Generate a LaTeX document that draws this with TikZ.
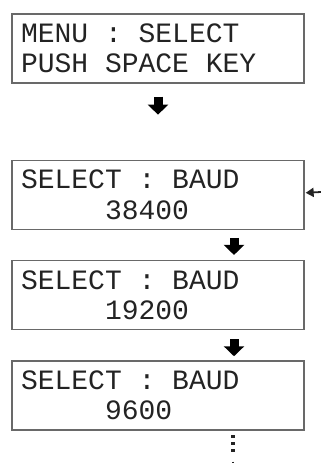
\documentclass[tikz,border=0pt]{standalone}
\usepackage{fontspec}
\usepackage{tikz}
\usetikzlibrary{positioning,calc}
\usetikzlibrary{arrows.meta}
\newfontfamily\lcdfont{Liberation Mono}
\newcommand\lcdsp{\hphantom{0}}
\definecolor{LcdFrame}{RGB}{105,105,105}
\definecolor{LcdInk}{RGB}{35,35,35}

\tikzset{
	lcdbox/.style={draw=LcdFrame,line width=1.3pt,text width=274pt,
		inner xsep=9pt,inner ysep=0pt,minimum height=69pt,align=left,
		font=\lcdfont\fontsize{28pt}{30.5pt}\selectfont,text=LcdInk},
	downarrow/.style={line width=9pt,-{Triangle[length=10pt,width=20pt]}},
	looparrow/.style={line width=1.8pt,-{Triangle[length=8pt,width=9pt]}}
}

\begin{document}
\begin{tikzpicture}
				\useasboundingbox (0,0) rectangle (321pt,-463pt);
				
				\node[lcdbox] (menu) at (158pt,-48.5pt)
				{MENU\lcdsp:\lcdsp SELECT\\PUSH\lcdsp SPACE\lcdsp KEY};
				\node[lcdbox,below=76pt of menu] (baudA)
				{SELECT\lcdsp:\lcdsp BAUD\\\lcdsp\lcdsp\lcdsp\lcdsp\lcdsp 38400};
				\node[lcdbox,below=30pt of baudA] (baudB)
				{SELECT\lcdsp:\lcdsp BAUD\\\lcdsp\lcdsp\lcdsp\lcdsp\lcdsp 19200};
				\node[lcdbox,below=30pt of baudB] (baudC)
				{SELECT\lcdsp:\lcdsp BAUD\\\lcdsp\lcdsp\lcdsp\lcdsp\lcdsp 9600};
				
				% block arrows between the screens
				\draw[downarrow] ($(menu.south)+(0,-13pt)$) -- ++(0,-18pt);
				\draw[downarrow] ($(baudA.south)+(76pt,-8pt)$) -- ++(0,-17pt);
				\draw[downarrow] ($(baudB.south)+(76pt,-9pt)$) -- ++(0,-17pt);
				
				% the list goes on and comes back to 38400
				\foreach \d in {6,13,20}
				\fill[LcdInk] ($(baudC.south)+(75pt,-\d pt)$) +(-1.6pt,-1.6pt) rectangle +(1.6pt,1.6pt);
				\coordinate (loopdown) at ($(baudC.south)+(75pt,-31pt)$);
				\draw[LcdInk,line width=2.6pt] (loopdown) -- ++(0,-8pt);
				
				\coordinate (loopin) at (321pt,-192pt);
				\draw[looparrow,LcdInk] (loopin) -- ([xshift=1pt,yshift=2pt]baudA.east);
			\end{tikzpicture}
\end{document}
